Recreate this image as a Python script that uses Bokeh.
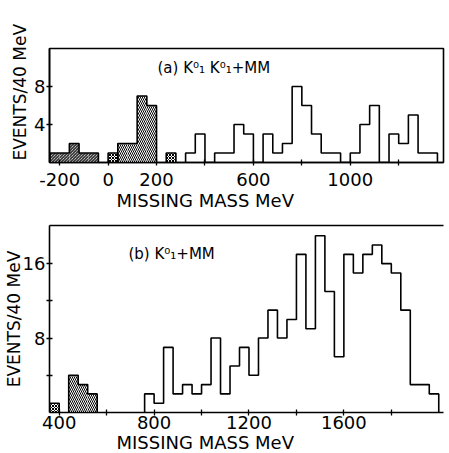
from bokeh.plotting import figure
from bokeh.models import Label, FixedTicker, Title, LinearAxis
from bokeh.layouts import column
from bokeh.embed import file_html
from bokeh.resources import INLINE

BIN = 40  # MeV per bin

# ---------------- panel (a): K1 K1 + MM ----------------
a_diag_left_start = -240
a_diag_left_counts = [1, 1, 2, 1, 1]
a_cross_starts = [0, 240]
a_cross_counts = [1, 1]
a_diag_mid_start = 40
a_diag_mid_counts = [2, 2, 7, 6]
a_open_start = 320
a_open_counts = [1, 3, 0, 1, 1, 4, 3, 0, 3, 1, 2, 8, 6, 3, 1, 1, 0, 1, 4, 6, 0, 3, 2, 5, 1, 1]
a_xticks = [-200, 0, 200, 400, 600, 800, 1000, 1200]
a_xtick_labels = ["-200", "0", "200", "", "600", "", "1000", ""]
a_yticks = [4, 8]
a_ytick_labels = ["4", "8"]
a_title = "(a) K\u2070\u2081 K\u2070\u2081+MM"

# ---------------- panel (b): K1 + MM ----------------
b_cross_starts = [360]
b_cross_counts = [1]
b_diag_start = 440
b_diag_counts = [4, 3, 2]
b_open_start = 760
b_open_counts = [2, 1, 7, 2, 3, 2, 3, 8, 2, 5, 7, 4, 8, 11, 8, 10, 17, 9, 19, 13, 6,
                 17, 15, 17, 18, 16, 15, 11, 3, 3, 2]
b_xticks = [400, 600, 800, 1000, 1200, 1400, 1600, 1800]
b_xtick_labels = ["400", "", "800", "", "1200", "", "1600", ""]
b_yticks = [4, 8, 12, 16]
b_ytick_labels = ["", "8", "", "16"]
b_title = "(b) K\u2070\u2081+MM"

y_label = "EVENTS/40 MeV"
x_label = "MISSING MASS MeV"

FONT = "DejaVu Sans"
LW = 1.6


def edges_of(start, counts):
    return [start + i * BIN for i in range(len(counts) + 1)]


def step_outline(p, start, counts):
    e = edges_of(start, counts)
    xs = [e[0]] + e
    ys = [0] + list(counts) + [0]
    p.step(xs, ys, mode="after", line_color="black", line_width=LW)


def hatched(p, start, counts, pattern, scale):
    e = edges_of(start, counts)
    p.quad(left=e[:-1], right=e[1:], bottom=0, top=counts, fill_color="white",
           line_color=None, hatch_pattern=pattern, hatch_color="black",
           hatch_scale=scale, hatch_weight=1.0)
    step_outline(p, start, counts)


def style(p, xticks, xlabels, yticks, ylabels, x_standoff):
    p.grid.visible = False
    p.outline_line_color = "black"
    p.outline_line_width = LW
    p.background_fill_color = "white"
    for ax, ticks, labels in ((p.xaxis, xticks, xlabels), (p.yaxis, yticks, ylabels)):
        ax.ticker = FixedTicker(ticks=ticks, minor_ticks=[])
        ax.major_label_overrides = {t: l for t, l in zip(ticks, labels)}
        ax.major_tick_in = 3
        ax.major_tick_out = 3
        ax.major_tick_line_width = 1.3
        ax.minor_tick_line_color = None
        ax.axis_line_width = LW
        ax.major_label_text_font = FONT
        ax.major_label_text_font_size = "18px"
        ax.major_label_text_color = "black"
    p.xaxis.major_label_standoff = x_standoff
    p.yaxis.major_label_standoff = 1


def side_title(p, text, place, align, offset, standoff, size):
    p.add_layout(Title(text=text, align=align, offset=offset, standoff=standoff,
                       text_font=FONT, text_font_size=size, text_font_style="normal",
                       text_color="black"), place)


def add_text(p, x, y, text, size, dx, dy):
    p.add_layout(Label(x=x, y=y, x_offset=dx, y_offset=dy, text=text,
                       text_font=FONT, text_font_size=size, text_color="black",
                       text_align="left", text_baseline="middle"))


# ---------- figure (a) ----------
ax0, ax1 = -242, 1385
ay0, ay1 = 0, 12
pa = figure(width=449, height=212, x_range=(ax0, ax1), y_range=(ay0, ay1),
            output_backend="svg", toolbar_location=None, min_border=0,
            min_border_left=49, min_border_right=6, min_border_top=48, min_border_bottom=50)
style(pa, a_xticks, a_xtick_labels, a_yticks, a_ytick_labels, 7)
hatched(pa, a_diag_left_start, a_diag_left_counts, "\\", 3)
hatched(pa, a_diag_mid_start, a_diag_mid_counts, "\\", 4)
for s, c in zip(a_cross_starts, a_cross_counts):
    hatched(pa, s, [c], "x", 3)
step_outline(pa, a_open_start, a_open_counts)
side_title(pa, y_label, "left", "left", 2, 4, "17px")
side_title(pa, x_label, "below", "left", 67, -2, "18px")
add_text(pa, ax0, ay1, a_title, "15px", 108, -19)

# ---------- figure (b) ----------
bx0, bx1 = 359, 2020
by0, by1 = 0, 20.1
pb = figure(width=449, height=241, x_range=(bx0, bx1), y_range=(by0, by1),
            output_backend="svg", toolbar_location=None, min_border=0,
            min_border_left=49, min_border_right=0, min_border_top=13, min_border_bottom=41)
style(pb, b_xticks, b_xtick_labels, b_yticks, b_ytick_labels, 0)
pb.outline_line_color = None  # right edge of this frame lies beyond the page
top_line = LinearAxis(ticker=FixedTicker(ticks=[]), axis_line_width=LW,
                      major_tick_out=0, major_tick_in=0, major_label_text_font_size="0px",
                      minor_tick_line_color=None)
pb.add_layout(top_line, "above")
for s, c in zip(b_cross_starts, b_cross_counts):
    hatched(pb, s, [c], "x", 3)
hatched(pb, b_diag_start, b_diag_counts, "\\", 4)
step_outline(pb, b_open_start, b_open_counts)
side_title(pb, y_label, "left", "center", 0, -8, "17px")
side_title(pb, x_label, "below", "left", 67, -4, "18px")
add_text(pb, bx0, by1, b_title, "15px", 79, -28)

layout = column(pa, pb, spacing=0)
open("out.html", "w").write(file_html(layout, INLINE))
